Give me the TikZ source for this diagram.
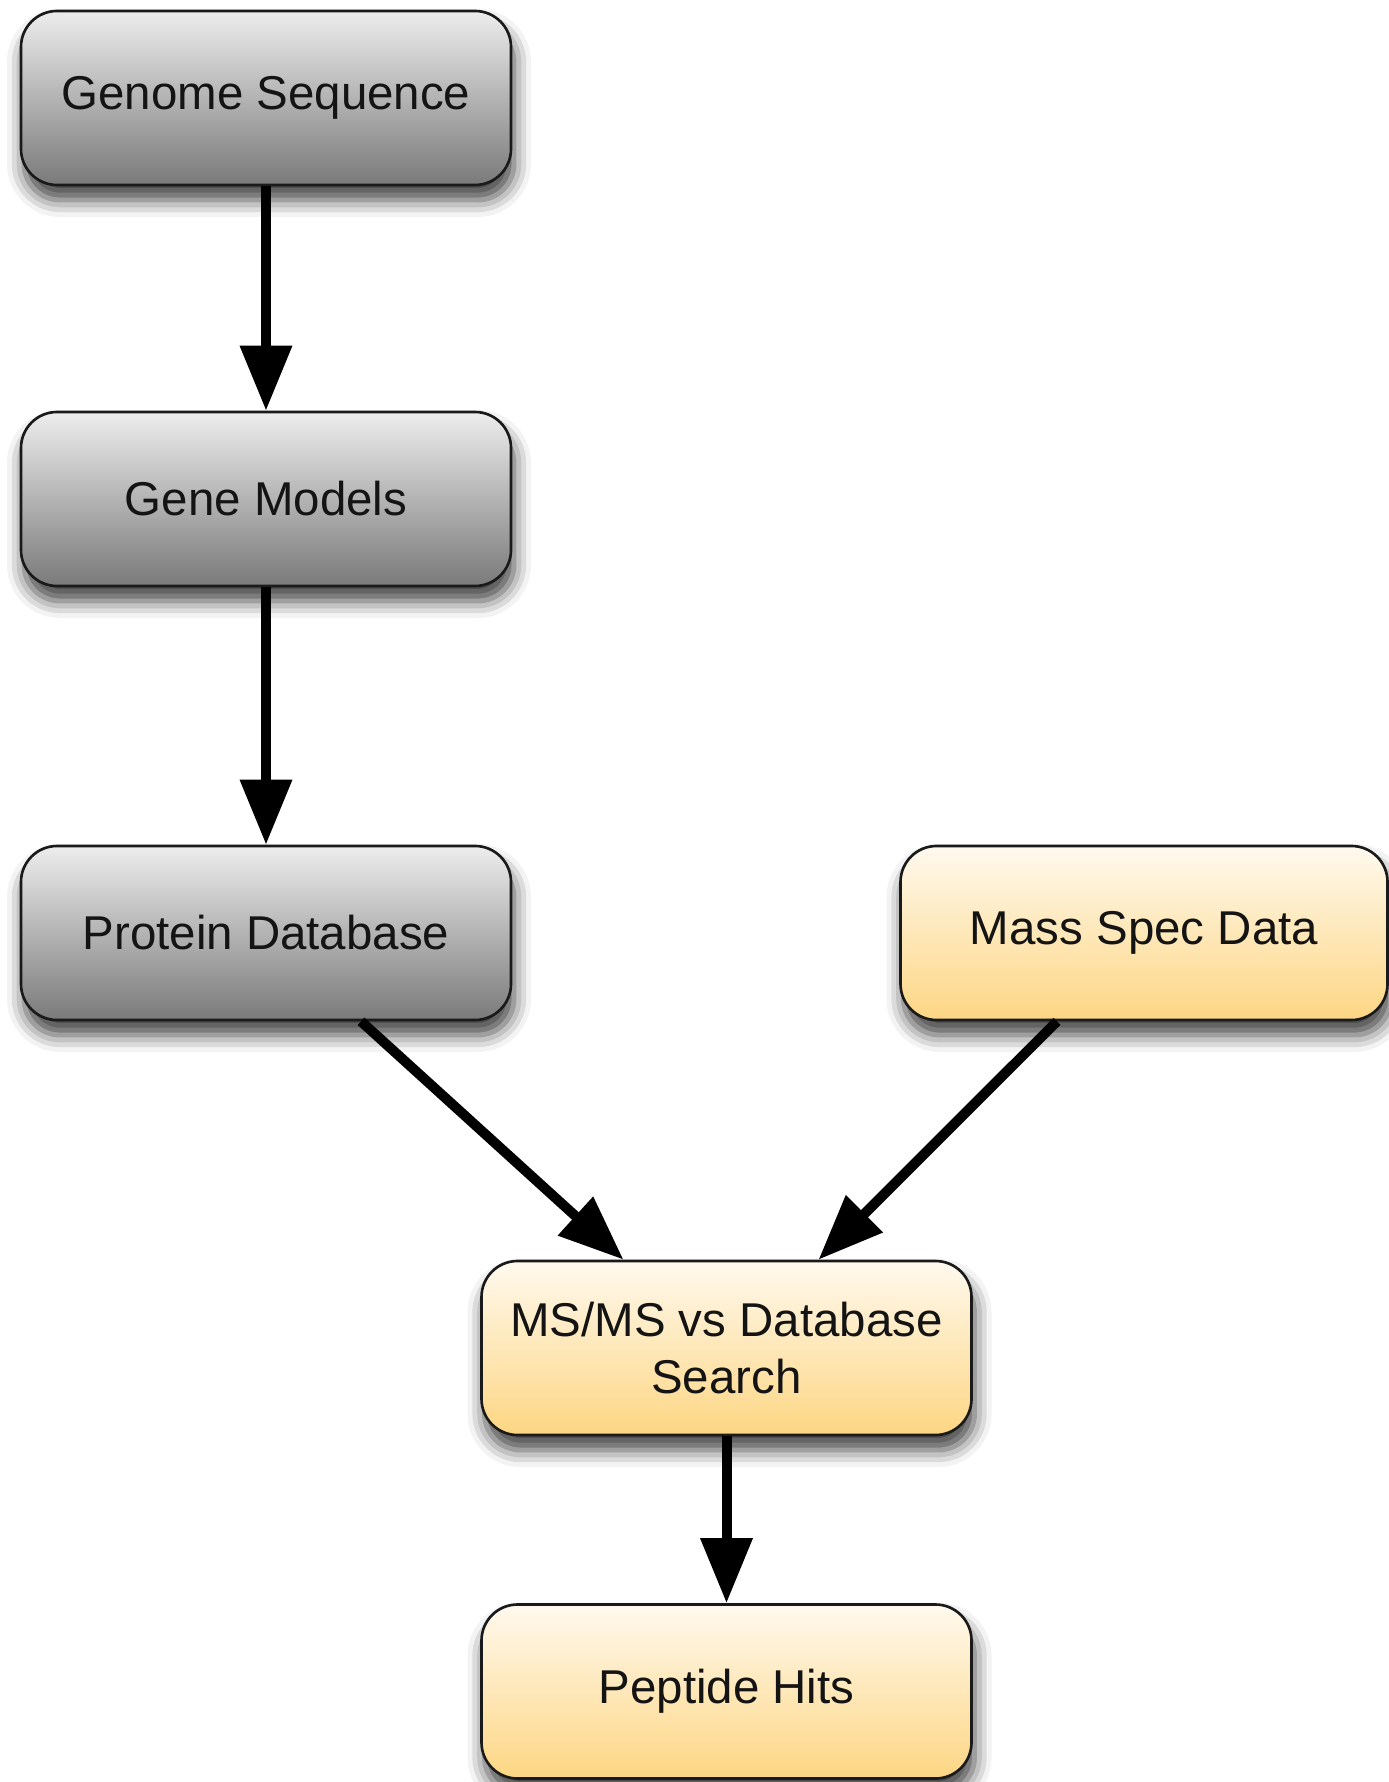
\documentclass[tikz,border=0pt]{standalone}
\usepackage{fontspec}
\setmainfont{Liberation Sans}
\usepackage{tikz}
\usetikzlibrary{arrows.meta,positioning,calc,shadows.blur}

\definecolor{greytop}{HTML}{EDEDED}
\definecolor{greybot}{HTML}{7A7A7A}
\definecolor{ambertop}{HTML}{FFF9EE}
\definecolor{amberbot}{HTML}{FDD683}
\definecolor{rim}{HTML}{1A1A1A}

\tikzset{
	stage/.style={draw=rim,line width=0.75pt,rounded corners=0.36cm,
		minimum width=4.9cm,minimum height=1.74cm,align=center,
		font=\fontsize{13.5}{16.2}\selectfont,text=black!92,
		blur shadow={shadow xshift=0.03cm,shadow yshift=-0.15cm,
			shadow blur radius=0.17cm,shadow opacity=75}},
	grey/.style={stage,top color=greytop,bottom color=greybot},
	amber/.style={stage,top color=ambertop,bottom color=amberbot},
	flow/.style={-{Triangle[length=0.65cm,width=0.5cm]},line width=0.1cm}
}

\begin{document}
\begin{tikzpicture}
	\useasboundingbox (0,0) rectangle (13.88,-17.82);
	% left column
	\node[grey] (genome) at (2.66,-0.98) {Genome Sequence};
	\node[grey] (models) at (2.66,-4.99) {Gene Models};
	\node[grey] (protdb) at (2.66,-9.33) {Protein Database};
	% right input
	\node[amber,minimum width=4.87cm] (massspec) at (11.44,-9.33) {Mass Spec Data};
	% search and result
	\node[amber] (search) at (7.265,-13.48) {MS/MS vs Database\\Search};
	\node[amber] (hits) at (7.265,-16.915) {Peptide Hits};

	\draw[flow] (genome) -- (models);
	\draw[flow] (models) -- (protdb);
	\draw[flow] ($(protdb.south)+(0.95,0)$) -- ($(search.north)+(-1.03,0)$);
	\draw[flow] ($(massspec.south)+(-0.87,0)$) -- ($(search.north)+(0.92,0)$);
	\draw[flow] (search) -- (hits);
\end{tikzpicture}
\end{document}
